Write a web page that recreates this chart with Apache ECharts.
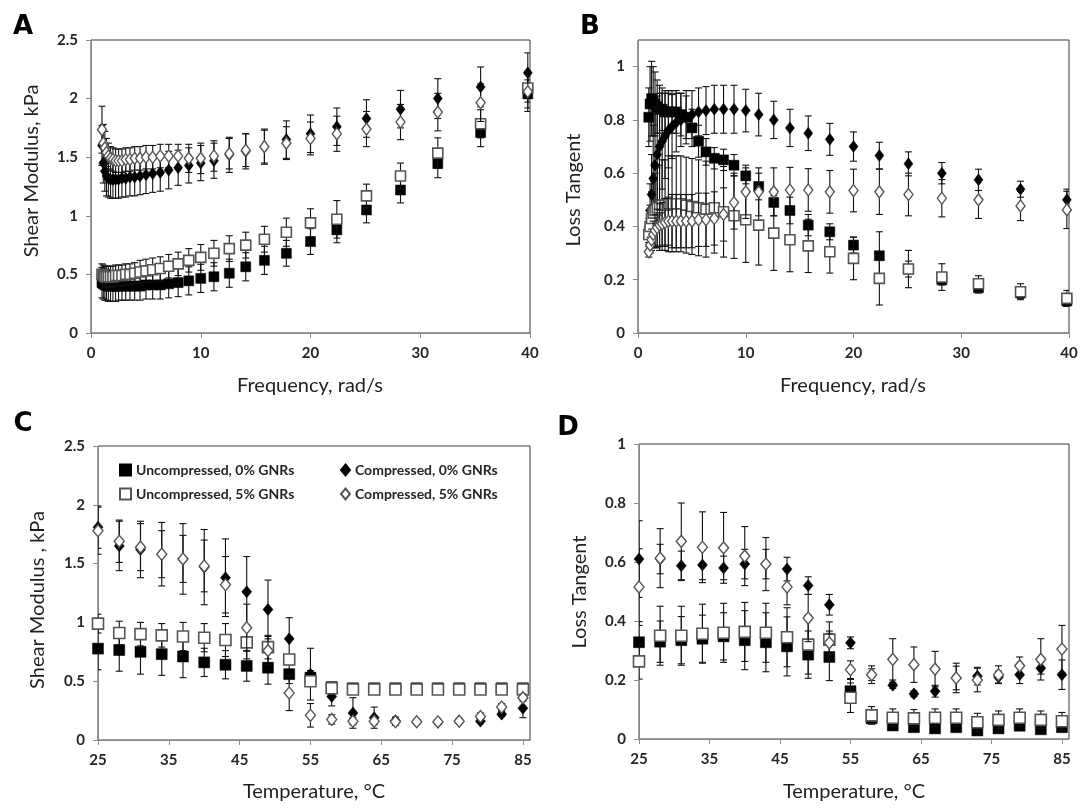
<!DOCTYPE html>
<html>
<head>
<meta charset="utf-8">
<script src="https://cdn.jsdelivr.net/npm/echarts@6/dist/echarts.min.js"></script>
<style>
html,body{margin:0;padding:0;background:#fff;}
#chart{width:1082px;height:808px;}
</style>
</head>
<body>
<div id="chart"></div>
<script>
// ---------- DATA ----------
const seriesNames = ['Uncompressed, 0% GNRs', 'Compressed, 0% GNRs', 'Uncompressed, 5% GNRs', 'Compressed, 5% GNRs'];

// Frequency sweep (rad/s) for panels A and B
const freq = [1.00,1.12,1.26,1.41,1.58,1.78,2.00,2.24,2.51,2.82,3.16,3.55,3.98,4.47,5.01,5.62,6.31,7.08,7.94,8.91,10.0,11.2,12.6,14.1,15.8,17.8,20.0,22.4,25.1,28.2,31.6,35.5,39.8];

// Panel A: shear modulus (kPa) vs frequency
const A_unc0 = [0.43,0.42,0.41,0.41,0.40,0.40,0.40,0.40,0.40,0.40,0.40,0.40,0.40,0.40,0.41,0.41,0.41,0.42,0.43,0.445,0.466,0.48,0.51,0.565,0.62,0.68,0.78,0.88,1.05,1.22,1.445,1.71,2.04];
const A_unc0_err = [0.13,0.13,0.13,0.13,0.13,0.13,0.13,0.13,0.12,0.12,0.12,0.12,0.12,0.12,0.12,0.12,0.12,0.12,0.12,0.12,0.12,0.12,0.12,0.12,0.12,0.11,0.11,0.11,0.11,0.11,0.12,0.12,0.12];
const A_comp0 = [1.60,1.45,1.38,1.34,1.32,1.31,1.31,1.31,1.31,1.32,1.32,1.33,1.33,1.34,1.35,1.36,1.37,1.39,1.41,1.43,1.45,1.47,1.52,1.55,1.59,1.65,1.70,1.76,1.83,1.91,2.00,2.10,2.22];
const A_comp0_err = [0.17,0.17,0.17,0.17,0.16,0.16,0.16,0.16,0.16,0.16,0.16,0.16,0.16,0.16,0.16,0.16,0.16,0.16,0.15,0.15,0.15,0.15,0.15,0.15,0.15,0.16,0.16,0.16,0.16,0.16,0.17,0.17,0.17];
const A_unc5 = [0.50,0.49,0.48,0.48,0.48,0.48,0.48,0.49,0.49,0.49,0.50,0.50,0.51,0.52,0.53,0.54,0.55,0.57,0.59,0.62,0.645,0.68,0.72,0.75,0.80,0.86,0.94,0.97,1.17,1.34,1.535,1.785,2.09];
const A_unc5_err = [0.09,0.09,0.09,0.09,0.09,0.09,0.09,0.09,0.09,0.09,0.09,0.09,0.09,0.10,0.10,0.10,0.10,0.10,0.10,0.10,0.11,0.11,0.11,0.11,0.11,0.12,0.12,0.16,0.10,0.11,0.13,0.12,0.12];
const A_comp5 = [1.735,1.62,1.58,1.54,1.51,1.49,1.48,1.47,1.47,1.47,1.48,1.48,1.49,1.49,1.50,1.50,1.51,1.51,1.51,1.49,1.49,1.51,1.53,1.56,1.59,1.62,1.66,1.70,1.74,1.80,1.885,1.965,2.06];
const A_comp5_err = [0.20,0.16,0.14,0.12,0.11,0.10,0.10,0.10,0.10,0.10,0.10,0.10,0.10,0.10,0.10,0.10,0.10,0.10,0.10,0.12,0.13,0.13,0.13,0.14,0.14,0.14,0.14,0.15,0.15,0.15,0.16,0.16,0.17];

// Panel B: loss tangent vs frequency
const B_unc0 = [0.81,0.86,0.88,0.87,0.86,0.85,0.84,0.84,0.83,0.83,0.83,0.83,0.82,0.81,0.77,0.72,0.68,0.656,0.65,0.63,0.59,0.55,0.49,0.46,0.405,0.38,0.33,0.29,0.24,0.20,0.17,0.15,0.12];
const B_unc0_err = [0.11,0.14,0.14,0.13,0.12,0.10,0.09,0.08,0.08,0.08,0.08,0.08,0.08,0.08,0.07,0.06,0.05,0.04,0.04,0.04,0.03,0.05,0.05,0.05,0.04,0.03,0.03,0.09,0.03,0.02,0.02,0.02,0.02];
const B_comp0 = [0.40,0.46,0.52,0.58,0.63,0.67,0.70,0.72,0.74,0.76,0.775,0.79,0.80,0.81,0.82,0.83,0.835,0.84,0.84,0.84,0.835,0.82,0.80,0.77,0.75,0.727,0.70,0.666,0.635,0.60,0.575,0.54,0.50];
const B_comp0_err = [0.06,0.10,0.15,0.20,0.22,0.22,0.20,0.18,0.16,0.14,0.12,0.11,0.10,0.10,0.09,0.09,0.09,0.09,0.09,0.09,0.08,0.08,0.07,0.07,0.065,0.06,0.055,0.05,0.045,0.04,0.04,0.03,0.04];
const B_unc5 = [0.37,0.40,0.43,0.45,0.46,0.47,0.47,0.48,0.48,0.485,0.485,0.485,0.485,0.48,0.475,0.47,0.465,0.47,0.455,0.44,0.425,0.405,0.375,0.35,0.327,0.305,0.28,0.205,0.24,0.21,0.185,0.155,0.13];
const B_unc5_err = [0.06,0.08,0.10,0.12,0.14,0.15,0.16,0.17,0.17,0.18,0.18,0.18,0.18,0.18,0.18,0.18,0.18,0.17,0.17,0.16,0.16,0.15,0.14,0.12,0.10,0.08,0.08,0.10,0.07,0.05,0.03,0.03,0.03];
const B_comp5 = [0.305,0.33,0.35,0.37,0.385,0.395,0.405,0.41,0.415,0.42,0.42,0.42,0.42,0.42,0.42,0.425,0.425,0.43,0.445,0.49,0.53,0.53,0.53,0.537,0.537,0.53,0.535,0.53,0.52,0.506,0.50,0.477,0.462];
const B_comp5_err = [0.02,0.03,0.04,0.05,0.06,0.07,0.08,0.08,0.09,0.09,0.10,0.10,0.10,0.10,0.10,0.10,0.10,0.10,0.10,0.10,0.10,0.09,0.09,0.085,0.08,0.08,0.08,0.085,0.08,0.07,0.07,0.055,0.07];

// Temperature sweep (°C) for panels C and D
const temp = [25,28,31,34,37,40,43,46,49,52,55,58,61,64,67,70,73,76,79,82,85];

// Panel C: shear modulus (kPa) vs temperature
const C_unc0 = [0.777,0.765,0.75,0.73,0.71,0.66,0.64,0.63,0.615,0.56,0.53,0.45,0.44,0.44,0.44,0.44,0.44,0.44,0.44,0.44,0.44];
const C_unc0_err = [0.18,0.18,0.19,0.18,0.18,0.12,0.12,0.13,0.14,0.08,0.06,0.02,0.02,0.02,0.02,0.02,0.02,0.02,0.02,0.02,0.02];
const C_comp0 = [1.81,1.65,1.62,1.58,1.54,1.47,1.38,1.26,1.11,0.86,0.56,0.37,0.23,0.19,0.165,0.155,0.15,0.16,0.16,0.22,0.27];
const C_comp0_err = [0.18,0.21,0.24,0.27,0.30,0.32,0.33,0.30,0.25,0.18,0.22,0.08,0.13,0.09,0.03,0.02,0.02,0.02,0.02,0.02,0.08];
const C_unc5 = [0.99,0.91,0.90,0.89,0.88,0.87,0.85,0.83,0.79,0.685,0.50,0.44,0.43,0.43,0.43,0.43,0.43,0.43,0.43,0.43,0.43];
const C_unc5_err = [0.08,0.10,0.10,0.10,0.12,0.12,0.14,0.14,0.10,0.04,0.03,0.02,0.02,0.02,0.02,0.02,0.02,0.02,0.02,0.02,0.02];
const C_comp5 = [1.78,1.69,1.64,1.58,1.54,1.48,1.32,0.955,0.76,0.40,0.21,0.175,0.16,0.16,0.155,0.155,0.155,0.16,0.20,0.28,0.36];
const C_comp5_err = [0.20,0.18,0.20,0.20,0.20,0.22,0.24,0.20,0.12,0.15,0.10,0.04,0.03,0.03,0.03,0.02,0.02,0.02,0.03,0.03,0.03];

// Panel D: loss tangent vs temperature
const D_unc0 = [0.328,0.33,0.335,0.34,0.348,0.335,0.328,0.314,0.286,0.278,0.162,0.07,0.046,0.04,0.036,0.04,0.029,0.036,0.045,0.033,0.04];
const D_unc0_err = [0.07,0.07,0.08,0.08,0.08,0.10,0.10,0.10,0.08,0.08,0.04,0.01,0.01,0.01,0.01,0.01,0.01,0.01,0.01,0.01,0.01];
const D_comp0 = [0.61,0.61,0.587,0.59,0.58,0.593,0.593,0.576,0.52,0.455,0.326,0.218,0.182,0.153,0.162,0.207,0.213,0.21,0.218,0.24,0.218];
const D_comp0_err = [0.13,0.05,0.05,0.05,0.04,0.05,0.05,0.04,0.03,0.035,0.02,0.02,0.01,0.01,0.02,0.04,0.03,0.02,0.03,0.02,0.05];
const D_unc5 = [0.263,0.35,0.35,0.357,0.36,0.363,0.36,0.345,0.32,0.337,0.14,0.08,0.072,0.07,0.072,0.072,0.057,0.065,0.072,0.065,0.06];
const D_unc5_err = [0.06,0.10,0.10,0.10,0.10,0.10,0.10,0.10,0.10,0.06,0.05,0.03,0.03,0.03,0.03,0.03,0.03,0.03,0.03,0.03,0.03];
const D_comp5 = [0.515,0.613,0.67,0.65,0.648,0.62,0.593,0.515,0.41,0.326,0.235,0.218,0.27,0.252,0.237,0.207,0.20,0.218,0.248,0.27,0.305];
const D_comp5_err = [0.13,0.10,0.13,0.12,0.12,0.10,0.09,0.06,0.08,0.04,0.03,0.03,0.07,0.06,0.06,0.05,0.04,0.03,0.03,0.07,0.08];

// ---------- CHART ----------
const FONT = 'Lato';
const panels = [
  {x: freq, ys: [A_unc0, A_comp0, A_unc5, A_comp5], es: [A_unc0_err, A_comp0_err, A_unc5_err, A_comp5_err], sq: 10, dm: [9, 12]},
  {x: freq, ys: [B_unc0, B_comp0, B_unc5, B_comp5], es: [B_unc0_err, B_comp0_err, B_unc5_err, B_comp5_err], sq: 10, dm: [9, 12]},
  {x: temp, ys: [C_unc0, C_comp0, C_unc5, C_comp5], es: [C_unc0_err, C_comp0_err, C_unc5_err, C_comp5_err], sq: 11, dm: [10, 12]},
  {x: temp, ys: [D_unc0, D_comp0, D_unc5, D_comp5], es: [D_unc0_err, D_comp0_err, D_unc5_err, D_comp5_err], sq: 11, dm: [10, 12]}
];

const grids = [
  {left: 91, top: 40, width: 439, height: 293},
  {left: 638, top: 40, width: 431, height: 293},
  {left: 98, top: 446, width: 432, height: 294},
  {left: 639, top: 444, width: 430, height: 295}
].map(g => Object.assign({show: true, borderColor: '#3a3a3a', borderWidth: 1, backgroundColor: 'transparent'}, g));

const axisLab = {fontFamily: FONT, fontWeight: 'bold', fontSize: 15, color: '#262626', margin: 13};
const axLine = {show: true, lineStyle: {color: '#8a8a8a', width: 1}};
const axTick = {show: true, inside: false, length: 5, lineStyle: {color: '#8a8a8a'}};

const xRanges = [[0, 40, 10], [0, 40, 10], [25, 86, 10], [25, 86, 10]];
const yRanges = [[0, 2.5, 0.5], [0, 1.1, 0.2], [0, 2.5, 0.5], [0, 1, 0.2]];

const xAxes = xRanges.map((r, i) => ({
  type: 'value', gridIndex: i, min: r[0], max: r[1], interval: r[2],
  axisLine: axLine, axisTick: axTick, splitLine: {show: false},
  axisLabel: Object.assign({showMaxLabel: i < 2}, axisLab)
}));
const yAxes = yRanges.map((r, i) => ({
  type: 'value', gridIndex: i, min: r[0], max: r[1], interval: r[2],
  axisLine: axLine, axisTick: axTick, splitLine: {show: false},
  axisLabel: Object.assign({showMaxLabel: i !== 1}, axisLab)
}));

const styles = [
  {symbol: 'rect', itemStyle: {color: '#000', borderColor: '#000', borderWidth: 0.5, opacity: 1}},
  {symbol: 'diamond', itemStyle: {color: '#000', borderColor: '#000', borderWidth: 0.5, opacity: 1}},
  {symbol: 'rect', itemStyle: {color: '#fff', borderColor: '#555', borderWidth: 1.6, opacity: 1}},
  {symbol: 'diamond', itemStyle: {color: '#fff', borderColor: '#555', borderWidth: 1.4, opacity: 1}}
];

function errRender(params, api) {
  const x = api.value(0), y = api.value(1), e = api.value(2);
  const hi = api.coord([x, y + e]);
  const lo = api.coord([x, y - e]);
  const cw = 3.5;
  const st = {stroke: '#111', lineWidth: 1.1};
  return {type: 'group', children: [
    {type: 'line', shape: {x1: hi[0], y1: hi[1], x2: lo[0], y2: lo[1]}, style: st},
    {type: 'line', shape: {x1: hi[0] - cw, y1: hi[1], x2: hi[0] + cw, y2: hi[1]}, style: st},
    {type: 'line', shape: {x1: lo[0] - cw, y1: lo[1], x2: lo[0] + cw, y2: lo[1]}, style: st}
  ]};
}

const series = [];
panels.forEach((p, pi) => {
  for (let s = 0; s < 4; s++) {
    series.push({
      type: 'custom', name: 'err' + pi + '_' + s, xAxisIndex: pi, yAxisIndex: pi,
      renderItem: errRender, z: 2 + s * 2, silent: true, clip: true,
      encode: {x: 0, y: 1},
      data: p.x.map((xv, k) => [xv, p.ys[s][k], p.es[s][k]])
    });
    series.push({
      type: 'scatter', name: seriesNames[s], xAxisIndex: pi, yAxisIndex: pi,
      symbol: styles[s].symbol,
      symbolSize: styles[s].symbol === 'rect' ? p.sq : p.dm,
      itemStyle: styles[s].itemStyle, z: 3 + s * 2,
      data: p.x.map((xv, k) => [xv, p.ys[s][k]])
    });
  }
});

const legTxt = {fontFamily: FONT, fontSize: 14, fontWeight: 'bold', color: '#262626'};
const legends = [
  {data: [seriesNames[0], seriesNames[2]], orient: 'vertical', left: 114, top: 458, itemGap: 10, itemWidth: 11, itemHeight: 11, textStyle: legTxt, selectedMode: false},
  {data: [seriesNames[1], seriesNames[3]], orient: 'vertical', left: 335, top: 458, itemGap: 10, itemWidth: 9, itemHeight: 11, textStyle: legTxt, selectedMode: false}
];

const titleStyle = {fontFamily: FONT, fontSize: 20, fill: '#1f1f1f'};
function txt(t, x, y, rot, extra) {
  return {type: 'text', x: x, y: y, rotation: rot || 0,
    style: Object.assign({text: t, align: 'center', verticalAlign: 'middle'}, titleStyle, extra || {})};
}
const letterStyle = {fontFamily: 'DejaVu Sans', fontSize: 26, fontWeight: 'bold', fill: '#000'};
const graphics = [
  txt('A', 23, 27, 0, letterStyle),
  txt('B', 590, 27, 0, letterStyle),
  txt('C', 23, 424, 0, letterStyle),
  txt('D', 568, 428, 0, letterStyle),
  txt('Shear Modulus, kPa', 32, 171, Math.PI / 2),
  txt('Loss Tangent', 574, 190, Math.PI / 2),
  txt('Shear Modulus , kPa', 38, 600, Math.PI / 2),
  txt('Loss Tangent', 580, 592, Math.PI / 2),
  txt('Frequency, rad/s', 310, 386, 0),
  txt('Frequency, rad/s', 853, 386, 0),
  txt('Temperature, °C', 314, 792, 0),
  txt('Temperature, °C', 854, 792, 0)
];

const chart = echarts.init(document.getElementById('chart'), null, {renderer: 'canvas'});
chart.setOption({
  animation: false,
  backgroundColor: '#fff',
  grid: grids,
  xAxis: xAxes,
  yAxis: yAxes,
  legend: legends,
  graphic: graphics,
  series: series
});
</script>
</body>
</html>
